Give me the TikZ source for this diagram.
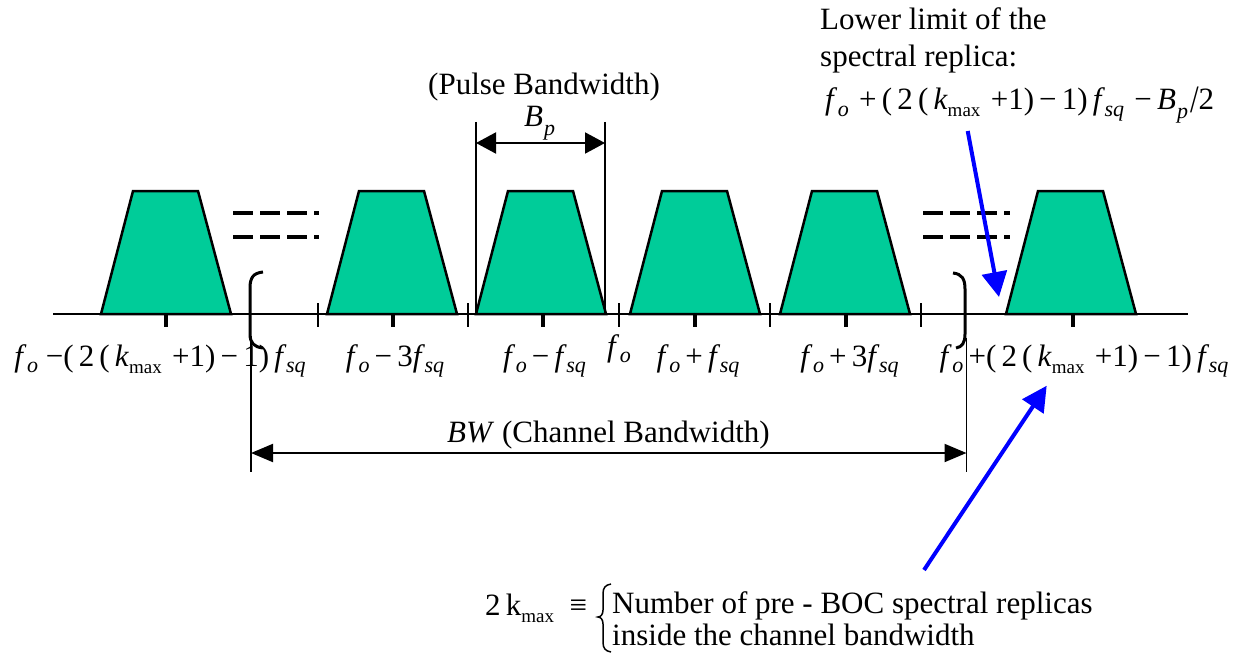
\documentclass[tikz,border=0pt]{standalone}
\usepackage{fontspec}
\setmainfont{Liberation Serif}
\usetikzlibrary{arrows.meta}
\definecolor{trapgreen}{RGB}{0,204,153}
\definecolor{pureblue}{RGB}{0,0,255}
\newcommand{\lsub}[1]{\raisebox{-6.5pt}{\fontsize{22}{22}\selectfont #1}}
\newcommand{\msub}[1]{\raisebox{-7pt}{\fontsize{19}{19}\selectfont #1}}
\newcommand{\fo}{\textit{f}\kern0.5pt\lsub{\textit{o}}}
\newcommand{\fsq}{\textit{f}\kern-0.5pt\lsub{\textit{sq}}}
\newcommand{\kmx}{\textit{k}\msub{max}}
\begin{document}
\begin{tikzpicture}[x=1pt,y=-1pt,
  txt/.style={inner sep=0pt, font=\fontsize{31}{36}\selectfont},
  trap/.style={fill=trapgreen, draw=black, line width=2.5pt, line join=miter},
  axisline/.style={line width=2.5pt},
  ctick/.style={line width=4pt},
  xtick/.style={line width=1.5pt},
  dashline/.style={line width=4pt, dash pattern=on 20pt off 7pt},
  dimline/.style={line width=1.5pt},
  bracket/.style={line width=3pt},
  bparrow/.style={line width=2pt, {Triangle[length=20pt,width=21pt]}-{Triangle[length=20pt,width=21pt]}},
  bwarrow/.style={line width=2pt, {Triangle[length=22pt,width=18pt]}-{Triangle[length=22pt,width=18pt]}},
  bluearrow/.style={draw=pureblue, line width=4pt, -{Triangle[length=25pt,width=25pt]}, pureblue}
]
\useasboundingbox (0,0) rectangle (1249,655);
% trapezoids
\foreach \x in {101,327,476,630,780,1006}{
  \draw[trap] (\x,314) -- (\x+32,191) -- (\x+97,191) -- (\x+130,314) -- cycle;
}
% axis
\draw[axisline] (53,314) -- (1188,314);
\foreach \x in {166,393,543,695,846,1073} \draw[ctick] (\x,314) -- (\x,327);
\foreach \x in {318,468,619,770,921} \draw[xtick] (\x,303) -- (\x,327);
% dashes
\draw[dashline] (233,213) -- (319,213);
\draw[dashline] (233,237) -- (319,237);
\draw[dashline] (923,213) -- (1010,213);
\draw[dashline] (923,237) -- (1010,237);
% pulse bandwidth
\coordinate (bpL) at (476,143);
\coordinate (bpR) at (605,143);
\draw[dimline] (476,122) -- (476,314);
\draw[dimline] (605,122) -- (605,314);
\draw[bparrow] (bpL) -- (bpR);
\node[txt, anchor=base west] (bp) at (524,127) {\textit{B}\kern1pt\raisebox{-2pt}{\lsub{\textit{p}}}};
\node[txt, anchor=base] (pulse) at (544,95) {(Pulse Bandwidth)};
% brackets
\draw[bracket] (263,272) .. controls (253,273) and (250,278) .. (250,288) -- (250,334) .. controls (250,343) and (254,347) .. (263,348);
\draw[bracket] (953,273) .. controls (962,274) and (965,279) .. (965,289) -- (965,334) .. controls (965,343) and (962,347) .. (956,348);
% channel bandwidth
\coordinate (bwL) at (251,453);
\coordinate (bwR) at (966.5,453);
\draw[dimline] (251,336) -- (251,472);
\draw[dimline] (966.5,338) -- (966.5,472);
\draw[bwarrow] (bwL) -- (bwR);
\node[txt, anchor=base] (bw) at (608.5,442) {\textit{BW} (Channel Bandwidth)};
% axis labels
\node[txt, anchor=base] (l1) at (160,366) {\fo\ −(\,2\,(\,\kmx\,\,+1)\,−\,1)\,\fsq};
\node[txt, anchor=base] (l2) at (395,366) {\fo\,−\,3\fsq};
\node[txt, anchor=base] (l3) at (544.5,366) {\fo\,−\,\fsq};
\node[txt, anchor=base] (l4) at (619,356) {\fo};
\node[txt, anchor=base] (l5) at (698,366) {\fo\,+\,\fsq};
\node[txt, anchor=base] (l6) at (849.5,366) {\fo\,+\,3\fsq};
\node[txt, anchor=base] (l7) at (1084,366) {\fo\,+(\,2\,(\,\kmx\,\,+1)\,−\,1)\,\fsq};
% top right note
\node[txt, anchor=base west] (n1) at (820,30) {Lower limit of the};
\node[txt, anchor=base west] (n2) at (820,67) {spectral replica:};
\node[txt, anchor=base west] (n3) at (825,110) {\fo\,\,+\,(\,2\,(\,\kmx\,\,+1)\,−\,1)\,\fsq\,\,−\,\textit{B}\kern1pt\raisebox{-2pt}{\lsub{\textit{p}}}\kern2pt\raisebox{-3pt}{\scalebox{1}[1.25]{/}}2};
\coordinate (a1s) at (967.7,131);
\coordinate (a1e) at (999,297);
\draw[bluearrow] (a1s) -- (a1e);
% bottom note
\node[txt, anchor=base west] (k) at (485,615) {2\,k\msub{max}\ \ ≡};
\draw[line width=1.5pt] (611,584) .. controls (605,585) and (603,588) .. (603,594) -- (603,610) .. controls (603,614) and (601,617) .. (598,617) .. controls (601,617) and (603,620) .. (603,624) -- (603,642) .. controls (603,648) and (605,651) .. (611,652);
\node[txt, anchor=base west] (m1) at (612,613) {Number of pre - BOC spectral replicas};
\node[txt, anchor=base west] (m2) at (612,645) {inside the channel bandwidth};
\coordinate (a2s) at (924,570);
\coordinate (a2e) at (1046.7,385.7);
\draw[bluearrow] (a2s) -- (a2e);
\end{tikzpicture}
\end{document}
